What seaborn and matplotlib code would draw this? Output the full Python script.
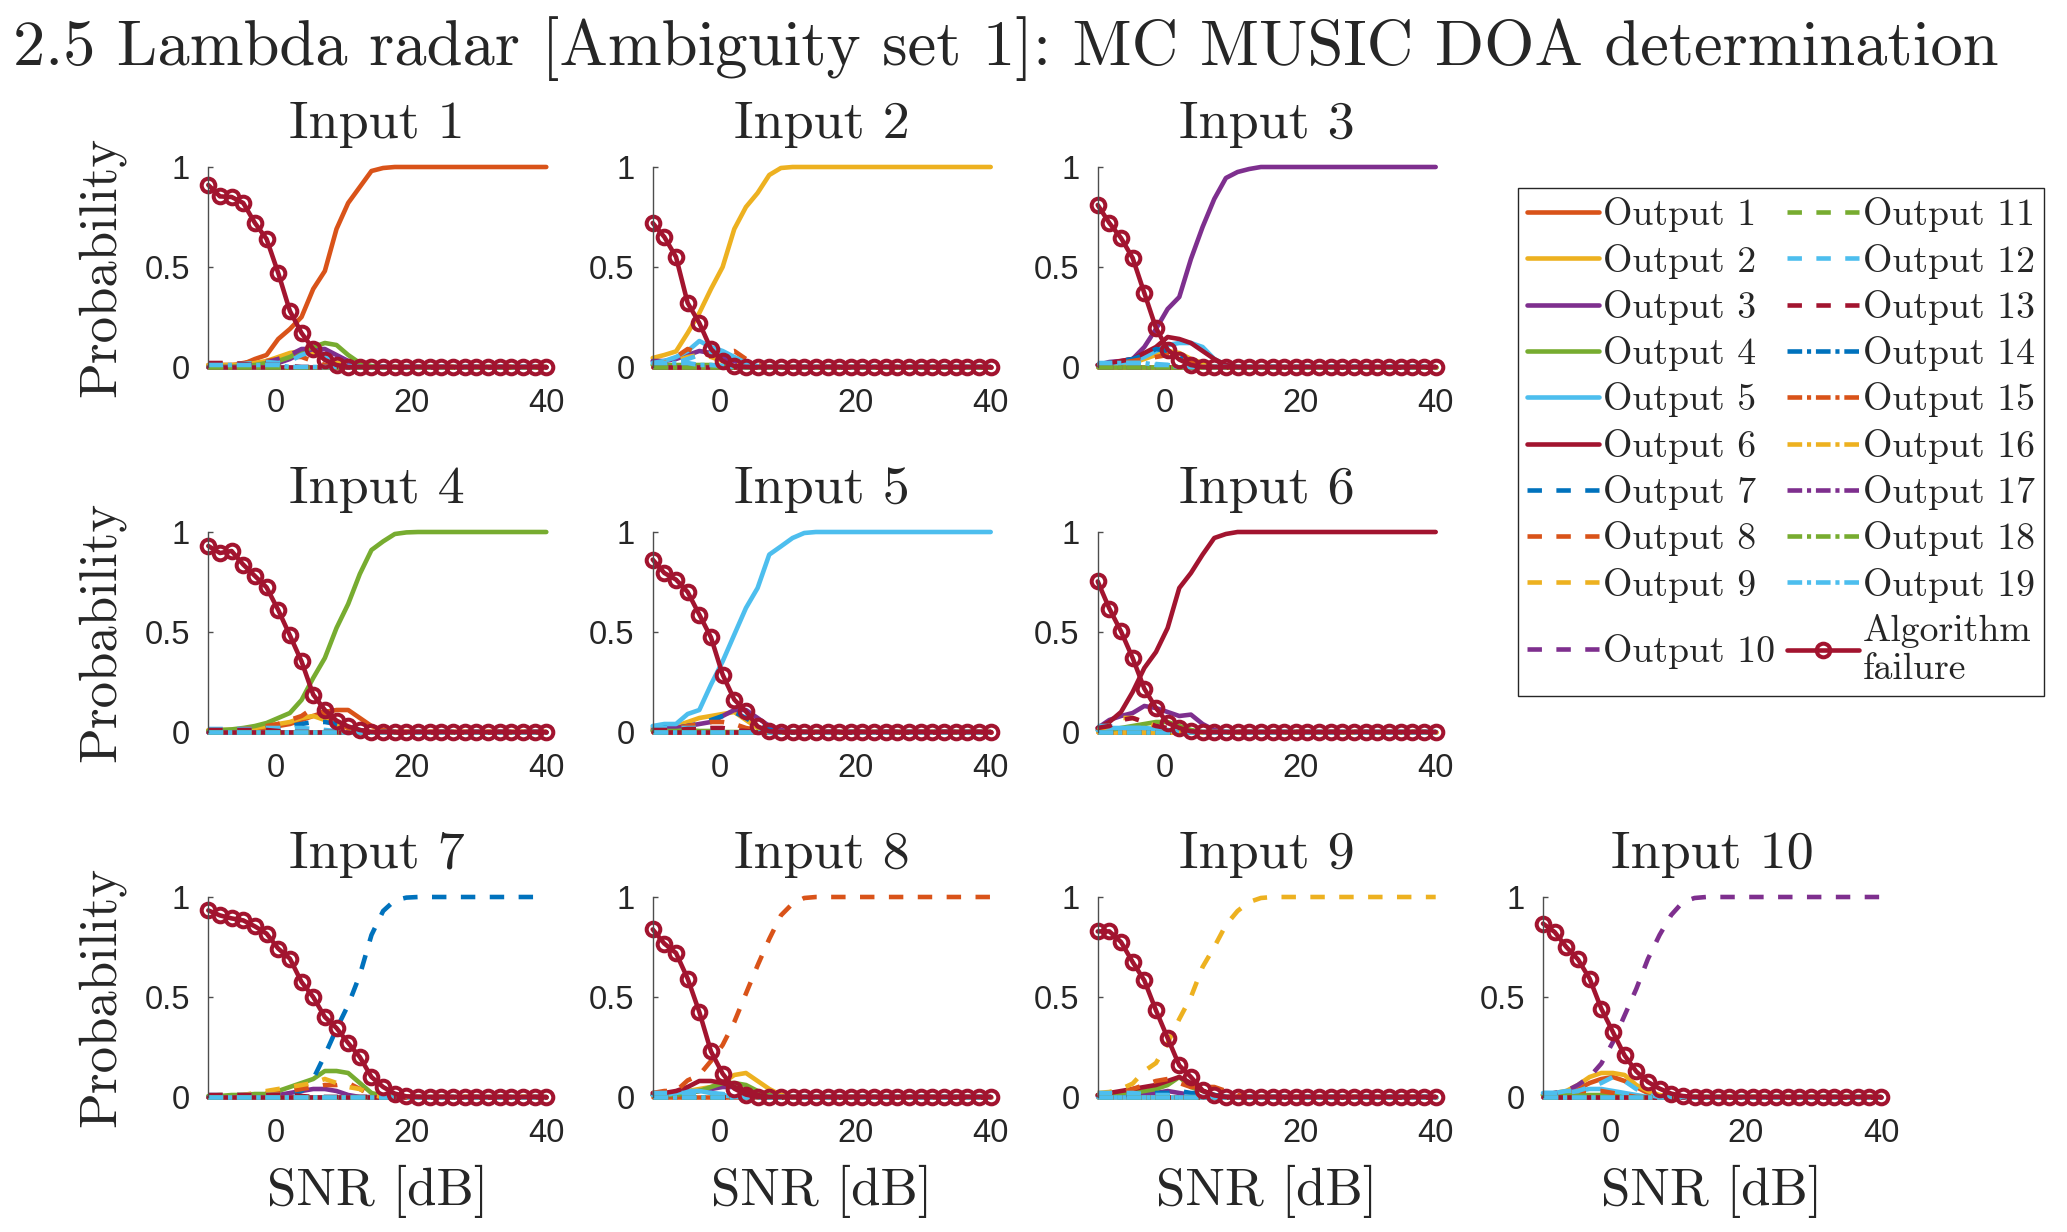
import numpy as np
import pandas as pd
import matplotlib
matplotlib.use("Agg")
import matplotlib.pyplot as plt
from matplotlib.lines import Line2D
import seaborn as sns

# ---------------- data ----------------
snr = np.linspace(-10, 40, 30)          # 30 SNR points, -10 ... 40 dB

main_title = "2.5 Lambda radar [Ambiguity set 1]: MC MUSIC DOA determination"
input_titles = [f"Input {k}" for k in range(1, 11)]
output_labels = [f"Output {k}" for k in range(1, 20)]
failure_label = "Algorithm\nfailure"
x_ticks = [0, 20, 40]
y_ticks = [0, 0.5, 1]
y_ticklabels = ["0", "0.5", "1"]

# probability of the "correct" output for each input (Input k -> Output k)
main_1 = [0.01, 0.01, 0.01, 0.015, 0.04, 0.06, 0.14, 0.19, 0.25, 0.39, 0.48, 0.69, 0.82, 0.90, 0.98,
          0.995, 1, 1, 1, 1, 1, 1, 1, 1, 1, 1, 1, 1, 1, 1]
main_2 = [0.045, 0.06, 0.078, 0.17, 0.27, 0.39, 0.50, 0.69, 0.80, 0.87, 0.96, 0.995, 1, 1, 1,
          1, 1, 1, 1, 1, 1, 1, 1, 1, 1, 1, 1, 1, 1, 1]
main_3 = [0.01, 0.025, 0.03, 0.04, 0.10, 0.19, 0.29, 0.35, 0.54, 0.70, 0.84, 0.945, 0.975, 0.99, 1,
          1, 1, 1, 1, 1, 1, 1, 1, 1, 1, 1, 1, 1, 1, 1]
main_4 = [0.005, 0.01, 0.013, 0.02, 0.03, 0.045, 0.07, 0.095, 0.16, 0.27, 0.37, 0.52, 0.64, 0.79, 0.91,
          0.953, 0.99, 0.998, 1, 1, 1, 1, 1, 1, 1, 1, 1, 1, 1, 1]
main_5 = [0.03, 0.04, 0.04, 0.09, 0.11, 0.237, 0.353, 0.487, 0.62, 0.72, 0.887, 0.928, 0.97, 0.995, 1,
          1, 1, 1, 1, 1, 1, 1, 1, 1, 1, 1, 1, 1, 1, 1]
main_6 = [0.02, 0.05, 0.10, 0.20, 0.32, 0.40, 0.52, 0.72, 0.795, 0.887, 0.97, 0.99, 1, 1, 1,
          1, 1, 1, 1, 1, 1, 1, 1, 1, 1, 1, 1, 1, 1, 1]
main_7 = [0, 0, 0, 0, 0, 0, 0, 0.01, 0.03, 0.09, 0.21, 0.34, 0.46, 0.61, 0.81,
          0.93, 0.983, 0.997, 1, 1, 1, 1, 1, 1, 1, 1, 1, 1, 1, 1]
main_8 = [0.02, 0.03, 0.03, 0.083, 0.11, 0.18, 0.26, 0.375, 0.517, 0.658, 0.79, 0.908, 0.967, 0.995, 1,
          1, 1, 1, 1, 1, 1, 1, 1, 1, 1, 1, 1, 1, 1, 1]
main_9 = [0.02, 0.025, 0.04, 0.067, 0.13, 0.17, 0.27, 0.39, 0.50, 0.65, 0.75, 0.86, 0.93, 0.975, 0.995,
          1, 1, 1, 1, 1, 1, 1, 1, 1, 1, 1, 1, 1, 1, 1]
main_10 = [0.01, 0.02, 0.03, 0.06, 0.10, 0.167, 0.275, 0.408, 0.54, 0.69, 0.81, 0.91, 0.975, 0.995, 1,
           1, 1, 1, 1, 1, 1, 1, 1, 1, 1, 1, 1, 1, 1, 1]

# probability of algorithm failure for each input
fail_1 = [0.91, 0.853, 0.85, 0.82, 0.72, 0.64, 0.47, 0.28, 0.17, 0.09, 0.035, 0.01, 0, 0, 0,
          0, 0, 0, 0, 0, 0, 0, 0, 0, 0, 0, 0, 0, 0, 0]
fail_2 = [0.72, 0.65, 0.55, 0.32, 0.22, 0.09, 0.03, 0.005, 0, 0, 0, 0, 0, 0, 0,
          0, 0, 0, 0, 0, 0, 0, 0, 0, 0, 0, 0, 0, 0, 0]
fail_3 = [0.81, 0.72, 0.645, 0.545, 0.37, 0.195, 0.087, 0.037, 0.01, 0, 0, 0, 0, 0, 0,
          0, 0, 0, 0, 0, 0, 0, 0, 0, 0, 0, 0, 0, 0, 0]
fail_4 = [0.93, 0.895, 0.905, 0.837, 0.78, 0.723, 0.61, 0.483, 0.353, 0.187, 0.11, 0.057, 0.028, 0.01, 0,
          0, 0, 0, 0, 0, 0, 0, 0, 0, 0, 0, 0, 0, 0, 0]
fail_5 = [0.862, 0.795, 0.762, 0.70, 0.587, 0.473, 0.287, 0.162, 0.103, 0.028, 0.003, 0, 0, 0, 0,
          0, 0, 0, 0, 0, 0, 0, 0, 0, 0, 0, 0, 0, 0, 0]
fail_6 = [0.753, 0.617, 0.503, 0.37, 0.217, 0.12, 0.045, 0.02, 0.003, 0, 0, 0, 0, 0, 0,
          0, 0, 0, 0, 0, 0, 0, 0, 0, 0, 0, 0, 0, 0, 0]
fail_7 = [0.933, 0.908, 0.893, 0.883, 0.853, 0.817, 0.742, 0.692, 0.575, 0.5, 0.4, 0.345, 0.27, 0.2, 0.1,
          0.05, 0.017, 0.003, 0, 0, 0, 0, 0, 0, 0, 0, 0, 0, 0, 0]
fail_8 = [0.838, 0.767, 0.72, 0.592, 0.425, 0.228, 0.117, 0.042, 0.012, 0, 0, 0, 0, 0, 0,
          0, 0, 0, 0, 0, 0, 0, 0, 0, 0, 0, 0, 0, 0, 0]
fail_9 = [0.828, 0.828, 0.775, 0.675, 0.583, 0.433, 0.295, 0.158, 0.10, 0.033, 0.008, 0, 0, 0, 0,
          0, 0, 0, 0, 0, 0, 0, 0, 0, 0, 0, 0, 0, 0, 0]
fail_10 = [0.867, 0.825, 0.75, 0.688, 0.592, 0.442, 0.325, 0.208, 0.128, 0.075, 0.042, 0.017, 0.005, 0, 0,
           0, 0, 0, 0, 0, 0, 0, 0, 0, 0, 0, 0, 0, 0, 0]

# minor (wrong) outputs: {output number: values from the first SNR point on; later points read as 0}
minor_1 = {4: [0, 0, 0, 0.005, 0.01, 0.02, 0.03, 0.05, 0.08, 0.10, 0.12, 0.11, 0.06, 0.02, 0.005],
           3: [0, 0, 0, 0, 0.005, 0.01, 0.02, 0.04, 0.07, 0.09, 0.09, 0.06, 0.03, 0.01],
           2: [0.01, 0.01, 0.01, 0.01, 0.02, 0.03, 0.05, 0.07, 0.08, 0.07, 0.04, 0.02, 0.01],
           10: [0, 0, 0, 0.005, 0.01, 0.02, 0.04, 0.06, 0.09, 0.09, 0.06, 0.03, 0.01],
           12: [0.015, 0.015, 0.015, 0.015, 0.02, 0.025, 0.02, 0.03, 0.06, 0.08, 0.05, 0.02, 0.005],
           13: [0.02, 0.02, 0.02, 0.015, 0.01, 0.01, 0.01, 0.005],
           19: [0.01, 0.01, 0.01, 0.01, 0.01, 0.01, 0.01],
           8: [0.01, 0.015, 0.01, 0.02, 0.03, 0.03, 0.04, 0.05, 0.05, 0.03, 0.01]}
minor_2 = {5: [0.02, 0.03, 0.05, 0.08, 0.13, 0.10, 0.08, 0.05, 0.02, 0.005],
           8: [0.01, 0.02, 0.05, 0.09, 0.07, 0.06, 0.07, 0.08, 0.04, 0.01],
           3: [0.03, 0.03, 0.04, 0.06, 0.08, 0.07, 0.05, 0.03, 0.01],
           12: [0.02, 0.02, 0.02, 0.04, 0.06, 0.07, 0.07, 0.05, 0.02],
           9: [0.01, 0.02, 0.03, 0.05, 0.06, 0.05, 0.03, 0.01],
           4: [0.01, 0.01, 0.01, 0.01, 0.01, 0.01, 0.005],
           19: [0.02, 0.02, 0.02, 0.02, 0.01, 0.01, 0.005],
           13: [0.02, 0.015, 0.01, 0.01, 0.005]}
minor_3 = {6: [0.01, 0.02, 0.03, 0.04, 0.07, 0.10, 0.15, 0.14, 0.12, 0.08, 0.04, 0.01],
           5: [0.01, 0.02, 0.02, 0.03, 0.05, 0.08, 0.11, 0.12, 0.12, 0.10, 0.04, 0.01],
           7: [0.01, 0.02, 0.03, 0.04, 0.06, 0.09, 0.08, 0.06, 0.03, 0.01],
           2: [0.01, 0.01, 0.02, 0.02, 0.04, 0.06, 0.08, 0.07, 0.04, 0.02],
           8: [0.01, 0.01, 0.02, 0.03, 0.04, 0.05, 0.06, 0.05, 0.03, 0.01],
           19: [0.02, 0.02, 0.02, 0.02, 0.02, 0.01, 0.01],
           12: [0.015, 0.015, 0.02, 0.02, 0.02, 0.015, 0.01]}
minor_4 = {1: [0.005, 0.005, 0.01, 0.01, 0.015, 0.02, 0.03, 0.04, 0.06, 0.08, 0.10, 0.11, 0.11, 0.07, 0.03, 0.01],
           8: [0.005, 0.01, 0.01, 0.015, 0.02, 0.03, 0.04, 0.06, 0.08, 0.12, 0.09, 0.05, 0.02, 0.005],
           2: [0.01, 0.01, 0.01, 0.01, 0.02, 0.03, 0.04, 0.05, 0.07, 0.08, 0.06, 0.04, 0.02, 0.005],
           7: [0, 0, 0, 0.005, 0.01, 0.02, 0.02, 0.03, 0.04, 0.05, 0.05, 0.04, 0.03, 0.01],
           12: [0.015, 0.015, 0.015, 0.015, 0.015, 0.02, 0.02, 0.02, 0.02, 0.015, 0.01, 0.005],
           13: [0.01, 0.01, 0.01, 0.01, 0.01, 0.01, 0.005]}
minor_5 = {2: [0.02, 0.02, 0.03, 0.05, 0.07, 0.08, 0.09, 0.10, 0.06, 0.02, 0.005],
           3: [0.01, 0.02, 0.02, 0.03, 0.04, 0.05, 0.08, 0.11, 0.11, 0.07, 0.03, 0.01],
           7: [0.01, 0.02, 0.02, 0.03, 0.04, 0.06, 0.08, 0.10, 0.07, 0.03, 0.01],
           8: [0.01, 0.01, 0.02, 0.03, 0.04, 0.05, 0.05, 0.04, 0.02, 0.01],
           13: [0.01, 0.01, 0.01, 0.015, 0.015, 0.02, 0.02, 0.01, 0.005],
           12: [0.02, 0.02, 0.02, 0.02, 0.02, 0.015, 0.01, 0.005],
           4: [0.005, 0.005, 0.005, 0.01, 0.005, 0.005]}
minor_6 = {3: [0.02, 0.06, 0.08, 0.095, 0.13, 0.12, 0.10, 0.08, 0.087, 0.04, 0.01],
           13: [0.02, 0.03, 0.06, 0.07, 0.05, 0.03, 0.02, 0.01],
           9: [0.01, 0.03, 0.07, 0.07, 0.05, 0.03, 0.01],
           4: [0.01, 0.01, 0.02, 0.03, 0.04, 0.05, 0.05, 0.03, 0.01],
           12: [0.03, 0.03, 0.02, 0.02, 0.02, 0.015, 0.01],
           5: [0.01, 0.02, 0.02, 0.02, 0.02, 0.015, 0.01]}
minor_7 = {4: [0.005, 0.005, 0.01, 0.01, 0.015, 0.015, 0.03, 0.05, 0.07, 0.09, 0.13, 0.13, 0.12, 0.07, 0.02, 0.005],
           9: [0.005, 0.01, 0.01, 0.01, 0.02, 0.03, 0.04, 0.05, 0.06, 0.07, 0.09, 0.07, 0.05, 0.04, 0.01],
           8: [0, 0, 0.005, 0.01, 0.01, 0.02, 0.02, 0.03, 0.04, 0.05, 0.06, 0.06, 0.07, 0.04, 0.01],
           3: [0, 0, 0, 0, 0.005, 0.01, 0.01, 0.02, 0.03, 0.04, 0.04, 0.03, 0.01],
           13: [0.01, 0.01, 0.01, 0.01, 0.01, 0.01, 0.01, 0.01, 0.005],
           12: [0.01, 0.01, 0.01, 0.01, 0.01, 0.01, 0.01, 0.005]}
minor_8 = {2: [0.01, 0.01, 0.02, 0.03, 0.04, 0.05, 0.07, 0.11, 0.12, 0.08, 0.04, 0.01],
           6: [0.02, 0.02, 0.03, 0.05, 0.08, 0.08, 0.07, 0.05, 0.03, 0.01],
           4: [0.01, 0.01, 0.01, 0.02, 0.03, 0.05, 0.07, 0.07, 0.06, 0.03, 0.01],
           3: [0.01, 0.01, 0.01, 0.02, 0.03, 0.04, 0.05, 0.05, 0.03, 0.01],
           12: [0.02, 0.02, 0.02, 0.02, 0.02, 0.02, 0.015, 0.01],
           5: [0.01, 0.01, 0.02, 0.03, 0.03, 0.02, 0.01]}
minor_9 = {6: [0.01, 0.02, 0.03, 0.04, 0.05, 0.06, 0.08, 0.10, 0.07, 0.03, 0.01],
           8: [0.01, 0.01, 0.02, 0.04, 0.06, 0.08, 0.09, 0.07, 0.05, 0.05, 0.05, 0.03, 0.01],
           4: [0.01, 0.01, 0.02, 0.02, 0.03, 0.04, 0.06, 0.10, 0.05, 0.03, 0.01],
           7: [0.005, 0.005, 0.01, 0.01, 0.01, 0.02, 0.02, 0.03, 0.02, 0.02, 0.01],
           3: [0.005, 0.01, 0.01, 0.01, 0.02, 0.02, 0.03, 0.02, 0.01],
           12: [0.02, 0.02, 0.02, 0.02, 0.015, 0.01, 0.01, 0.005]}
minor_10 = {2: [0.01, 0.02, 0.03, 0.06, 0.10, 0.12, 0.12, 0.11, 0.06, 0.03, 0.01],
            1: [0.01, 0.01, 0.02, 0.04, 0.07, 0.09, 0.10, 0.08, 0.05, 0.02],
            12: [0.02, 0.02, 0.02, 0.03, 0.05, 0.07, 0.10, 0.08, 0.04, 0.01],
            5: [0.02, 0.02, 0.03, 0.03, 0.04, 0.04, 0.03, 0.02, 0.01],
            4: [0.01, 0.01, 0.01, 0.01, 0.01, 0.01, 0.01, 0.01],
            8: [0.01, 0.01, 0.02, 0.03, 0.03, 0.03, 0.02, 0.01]}

mains = [main_1, main_2, main_3, main_4, main_5, main_6, main_7, main_8, main_9, main_10]
fails = [fail_1, fail_2, fail_3, fail_4, fail_5, fail_6, fail_7, fail_8, fail_9, fail_10]
minors = [minor_1, minor_2, minor_3, minor_4, minor_5, minor_6, minor_7, minor_8, minor_9, minor_10]

# ---------------- style ----------------
sns.set_style("white")
SERIF = ["cmr10", "DejaVu Serif"]
SANS = ["Liberation Sans", "DejaVu Sans"]
plt.rcParams["font.family"] = SANS
plt.rcParams["axes.unicode_minus"] = False

matlab = ["#0072BD", "#D95319", "#EDB120", "#7E2F8E", "#77AC30", "#4DBEEE", "#A2142F"]
FAIL_C = "#A2142F"
LW = 3.3
MS = 9.8
MEW = 2.9
palette = {lab: matlab[k % 7] for k, lab in enumerate(output_labels, start=1)}
DASH = (3.15, 3.15)
DASHDOT = (3.2, 1.05, 0.9, 1.05)
dashes = {}
for k, lab in enumerate(output_labels, start=1):
    dashes[lab] = "" if k <= 6 else (DASH if k <= 13 else DASHDOT)

W, H = 2067, 1232
fig = plt.figure(figsize=(W / 100, H / 100), dpi=100)

lefts = [208.3, 652.7, 1097.7, 1543.0]
tops = [167.0, 532.0, 897.0]
aw, ah = 338.0, 200.0
layout = [(0, 0), (0, 1), (0, 2), (1, 0), (1, 1), (1, 2), (2, 0), (2, 1), (2, 2), (2, 3)]

for idx, (r, c) in enumerate(layout):
    ax = fig.add_axes([lefts[c] / W, 1 - (tops[r] + ah) / H, aw / W, ah / H])
    n = len(snr)
    rows = []
    for k, lab in enumerate(output_labels, start=1):
        if k == idx + 1:
            vals = mains[idx]
        else:
            part = minors[idx].get(k, [])
            vals = list(part) + [0.0] * (n - len(part))
        for x, v in zip(snr, vals):
            rows.append((x, v, lab))
    df = pd.DataFrame(rows, columns=["snr", "prob", "series"])
    sns.lineplot(data=df, x="snr", y="prob", hue="series", style="series",
                 hue_order=output_labels, style_order=output_labels,
                 palette=palette, dashes=dashes, linewidth=LW, legend=False,
                 estimator=None, sort=False, ax=ax, clip_on=False)
    sns.lineplot(x=snr, y=fails[idx], color=FAIL_C, linewidth=LW, marker="o",
                 markersize=MS, markerfacecolor="none", markeredgecolor=FAIL_C,
                 markeredgewidth=MEW, estimator=None, sort=False, ax=ax, clip_on=False)

    ax.set_xlim(-10, 40)
    ax.set_ylim(0, 1)
    ax.set_xticks(x_ticks)
    ax.set_yticks(y_ticks)
    ax.set_yticklabels(y_ticklabels)
    for s in ["top", "right", "bottom"]:
        ax.spines[s].set_visible(False)
    ax.spines["left"].set_color("0.3")
    ax.spines["left"].set_linewidth(1.0)
    ax.tick_params(axis="x", length=0, pad=15, labelsize=23.5, labelcolor="#262626")
    ax.tick_params(axis="y", direction="in", length=3.6, width=1.0, color="0.3",
                   pad=13, labelsize=23.5, labelcolor="#262626", left=True)
    ax.set_title(input_titles[idx], fontsize=39, family=SERIF, pad=21)
    if c == 0:
        ax.set_ylabel("Probability", fontsize=38, family=SERIF)
        ax.yaxis.set_label_coords(-0.245, 0.5)
    else:
        ax.set_ylabel("")
    if r == 2:
        ax.set_xlabel("SNR [dB]", fontsize=38, family=SERIF)
        ax.xaxis.set_label_coords(0.5, -0.34)
    else:
        ax.set_xlabel("")

fig.text(13 / W, 1 - 49 / H, main_title, fontsize=46.5, family=SERIF, ha="left", va="center")

# legend
handles = []
for k, lab in enumerate(output_labels, start=1):
    ls = "-" if k <= 6 else (0, DASH if k <= 13 else DASHDOT)
    handles.append(Line2D([], [], color=palette[lab], linewidth=LW, linestyle=ls))
handles.append(Line2D([], [], color=FAIL_C, linewidth=LW, marker="o", markersize=MS,
                      markerfacecolor="none", markeredgecolor=FAIL_C, markeredgewidth=MEW))
labels = output_labels + [failure_label]
leg = fig.legend(handles, labels, loc="upper left", bbox_to_anchor=(1518 / W, 1 - 188 / H),
                 ncol=2, frameon=True, fancybox=False, edgecolor="0.15", framealpha=1,
                 prop={"family": SERIF, "size": 27.2}, handlelength=1.9, handletextpad=0.1,
                 columnspacing=0.32, labelspacing=0.3, borderpad=0.25, borderaxespad=0)
leg.get_frame().set_linewidth(1.0)
texts = leg.get_texts()
texts[-1].set_linespacing(1.2)
# centre "Output 10" on the two-line "Algorithm failure" entry, as in the original legend
shift_px = 20.0
texts[9].set_position((0, -shift_px))
h10 = leg.legend_handles[9]
h10.set_ydata(np.asarray(h10.get_ydata()) - shift_px * 72 / 100)

fig.savefig("out.png", dpi=100)
